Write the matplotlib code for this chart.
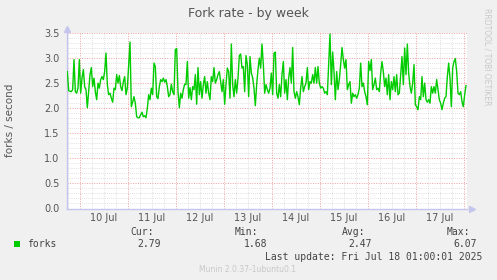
import matplotlib
matplotlib.use("Agg")
import matplotlib.pyplot as plt
from matplotlib.ticker import MultipleLocator
from matplotlib.patches import Rectangle
import matplotlib.dates as mdates
import pandas as pd

# forks per second, 40 minute samples
forks = [
    2.73, 2.35, 2.34, 2.33, 2.37, 2.97, 2.33, 2.30, 2.40, 2.97, 2.30, 2.60,
    2.77, 2.43, 2.37, 2.01, 2.33, 2.67, 2.81, 2.43, 2.60, 2.33, 2.17, 2.50,
    2.40, 2.57, 2.63, 2.57, 2.73, 3.10, 2.47, 2.27, 2.30, 2.20, 2.12, 2.40,
    2.37, 2.67, 2.50, 2.65, 2.43, 2.35, 2.53, 2.63, 2.27, 2.40, 2.87, 3.32,
    2.03, 2.12, 2.23, 2.10, 1.83, 1.81, 1.81, 1.87, 1.92, 1.83, 1.85, 1.81,
    2.00, 2.27, 2.17, 2.40, 2.27, 2.90, 2.83, 2.23, 2.19, 2.43, 2.57, 2.53,
    2.60, 2.52, 2.57, 2.43, 2.23, 2.27, 2.48, 2.33, 2.27, 3.17, 3.19, 2.33,
    2.01, 2.30, 2.20, 2.37, 2.48, 2.47, 2.93, 2.20, 2.41, 2.17, 2.43, 2.37,
    2.67, 2.08,
    2.81, 2.27, 2.53, 2.20, 2.47, 2.63, 2.30, 2.53, 2.30, 2.17, 2.63, 2.53,
    2.81, 2.50, 2.57, 2.67, 2.73, 2.53, 2.33, 2.57, 2.08, 2.47, 2.80, 2.73,
    2.20, 3.28, 2.47, 2.23, 2.57, 2.30, 2.60, 3.05, 3.08, 2.80, 2.83, 2.33,
    3.05, 2.87, 2.23, 3.03, 2.70, 2.61, 2.40, 2.05, 2.47, 2.77, 3.00, 2.80,
    3.28, 2.87,
    2.30, 2.47, 2.37, 2.30, 2.40, 2.70, 2.27, 3.10, 3.12, 2.30, 2.20, 2.47,
    2.23, 2.67, 2.93, 2.30, 2.57, 2.17, 2.60, 2.81, 2.50, 3.21, 2.33, 2.20,
    2.33, 2.23, 2.07, 2.40, 2.63, 2.33, 2.43, 2.50, 2.81, 2.37, 2.53, 2.50,
    2.67, 2.50, 2.81, 2.50, 2.83, 2.50, 2.40, 2.43, 2.40, 2.30, 2.33, 2.27,
    2.90, 3.48,
    2.47, 3.12, 2.73, 2.17, 2.73, 2.37, 2.57, 2.87, 3.21, 2.97, 2.80, 2.97,
    2.37, 2.47, 2.53, 2.10, 2.30, 2.23, 2.27, 2.20, 2.27, 2.40, 2.90, 2.43,
    2.50, 2.33, 2.23, 2.07, 2.93, 2.75, 2.97, 2.37, 2.47, 2.60, 2.37, 2.40,
    2.33, 2.70, 2.93, 2.73, 2.43, 2.60, 2.27, 2.67, 2.17, 2.53, 2.37, 2.63,
    2.33, 2.67,
    2.27, 2.30, 2.67, 3.03, 2.47, 3.20, 2.67, 3.28, 2.70, 2.43, 2.30, 2.50,
    2.87, 2.07, 2.03, 1.97, 2.23, 2.17, 2.63, 2.23, 2.50, 2.17, 2.12, 2.17,
    2.10, 2.43, 2.30, 2.43, 2.30, 2.57, 2.37, 2.17, 2.10, 1.97, 2.10, 2.20,
    2.23, 2.63, 2.90, 2.60, 2.03, 2.80, 2.93, 2.99, 2.73, 2.30, 2.27, 2.33,
    2.13, 2.03, 2.27, 2.45,
]
first_sample = "2025-07-09 17:40"
sample_step = "40min"
view_start = "2025-07-09 17:30"
view_end = "2025-07-18 01:30"
day_labels = ["10 Jul", "11 Jul", "12 Jul", "13 Jul", "14 Jul", "15 Jul", "16 Jul", "17 Jul"]

stat_names = ["Cur:", "Min:", "Avg:", "Max:"]
stat_values = ["2.79", "1.68", "2.47", "6.07"]
last_update = "Last update: Fri Jul 18 01:00:01 2025"

times = pd.date_range(first_sample, periods=len(forks), freq=sample_step)
noons = pd.date_range("2025-07-10 12:00", periods=len(day_labels), freq="D")
midnights = pd.date_range("2025-07-10", "2025-07-18", freq="D")

bg = "#F0F0F0"
txt = "#555555"
grid_gray = "#d6d6d6"
grid_red = "#f2a0a0"
axis_col = "#c4c4ec"
dots = (0, (1, 1.5))

fig = plt.figure(figsize=(4.97, 2.80), dpi=100, facecolor=bg)
W, H = 497.0, 280.0
ax = fig.add_axes([67 / W, 1 - 208.5 / H, 400 / W, 175.5 / H])
ax.set_facecolor("white")

ax.plot(times, forks, color="#00CC00", lw=1.0, zorder=4)

ax.set_ylim(0, 3.5)
ax.set_xlim(pd.Timestamp(view_start), pd.Timestamp(view_end))

ax.yaxis.set_major_locator(MultipleLocator(0.5))
ax.yaxis.set_minor_locator(MultipleLocator(0.1))
ax.set_yticklabels([])
ax.set_yticks([i * 0.5 for i in range(8)], ["%.1f" % (i * 0.5) for i in range(8)])

ax.set_xticks(noons, day_labels)
ax.xaxis.set_minor_locator(mdates.HourLocator(byhour=[6, 18]))

ax.yaxis.grid(True, which="minor", color=grid_gray, ls=dots, lw=0.6)
ax.yaxis.grid(True, which="major", color=grid_red, ls=dots, lw=0.7)
ax.xaxis.grid(True, which="both", color=grid_gray, ls=dots, lw=0.6)
for m in midnights:
    ax.axvline(m, color=grid_red, ls=dots, lw=0.7, zorder=2)
ax.set_axisbelow(True)

ax.tick_params(which="both", length=0, labelsize=7, colors=txt)
ax.tick_params(axis="x", pad=3.5)
ax.tick_params(axis="y", pad=5.5)

for s in ["top", "right"]:
    ax.spines[s].set_visible(False)
for s in ["left", "bottom"]:
    ax.spines[s].set_color(axis_col)
    ax.spines[s].set_linewidth(1.0)
# arrow heads at the axis ends
ax.plot([1.012], [0], marker=">", ms=4, color=axis_col, transform=ax.transAxes, clip_on=False)
ax.plot([0], [1.02], marker="^", ms=4, color=axis_col, transform=ax.transAxes, clip_on=False)

fig.text(0.5, 1 - 13 / H, "Fork rate - by week", ha="center", va="center", fontsize=9, color=txt)
fig.text(10 / W, 1 - 120 / H, "forks / second", rotation=90, ha="center", va="center",
         fontsize=7.5, color=txt)
fig.text(487 / W, 1 - 57 / H, "RRDTOOL / TOBI OETIKER", rotation=270, ha="center", va="center",
         fontsize=5.5, color="#c8c8c8")

# legend block
mono = dict(family="DejaVu Sans Mono", fontsize=7, color="#444444", va="center")
fig.patches.append(Rectangle((14 / W, 1 - 247 / H), 6 / W, 6 / H, transform=fig.transFigure,
                             facecolor="#00CC00", edgecolor="none"))
fig.text(27 / W, 1 - 244 / H, "forks", **mono)
name_x = [154, 258, 365, 470]
value_x = [161, 267, 372, 477]
for name, nx, val, vx in zip(stat_names, name_x, stat_values, value_x):
    fig.text(nx / W, 1 - 232 / H, name, ha="right", **mono)
    fig.text(vx / W, 1 - 244 / H, val, ha="right", **mono)
fig.text(482 / W, 1 - 257 / H, last_update, ha="right", **mono)
fig.text(247.5 / W, 1 - 269 / H, "Munin 2.0.37-1ubuntu0.1", ha="center", va="center",
         fontsize=5.5, color="#c8c8c8")

fig.savefig("out.png", dpi=100, facecolor=bg)
